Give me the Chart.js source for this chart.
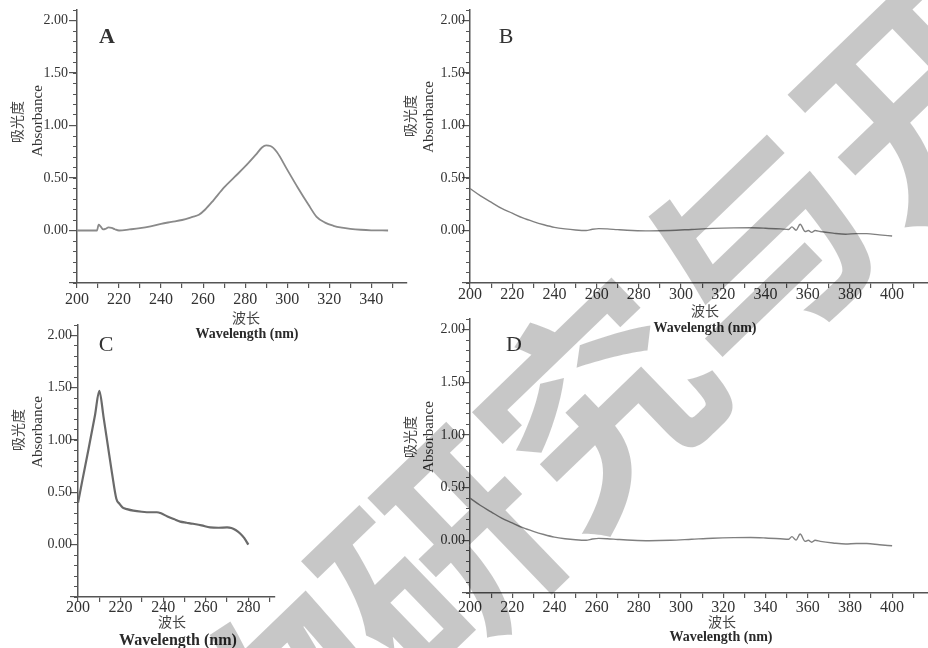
<!DOCTYPE html>
<html>
<head>
<meta charset="utf-8">
<script src="https://cdn.jsdelivr.net/npm/chart.js@4.4.1/dist/chart.umd.min.js"></script>
<style>
html,body{margin:0;padding:0;background:#fff;}
#wrap{position:relative;width:928px;height:648px;overflow:hidden;background:#fff;}
canvas{position:absolute;left:0;top:0;}
.t{position:absolute;transform:translate(-50%,-50%);white-space:nowrap;font-family:"Liberation Serif","Times New Roman",serif;color:#2a2a2a;line-height:1;}
.v{transform:translate(-50%,-50%) rotate(-90deg);}
.cjk{font-family:"Noto Sans CJK SC",sans-serif;font-size:14px;color:#444;}
.ab{font-size:15px;color:#333;}
.wl{font-size:14px;font-weight:bold;color:#2a2a2a;}
.pl{font-size:22px;color:#333;}
#wm{position:absolute;left:590px;top:395px;transform:translate(-50%,-50%) rotate(-44deg);font-family:"Noto Sans CJK SC",sans-serif;font-weight:700;font-size:222px;line-height:1;color:rgba(0,0,0,0.22);white-space:nowrap;pointer-events:none;}
</style>
</head>
<body>
<div id="wrap">
<canvas id="cA" width="928" height="648"></canvas>
<canvas id="cB" width="928" height="648"></canvas>
<canvas id="cC" width="928" height="648"></canvas>
<canvas id="cD" width="928" height="648"></canvas>

<div class="t pl" style="left:107px;top:36px;font-weight:bold;">A</div>
<div class="t v cjk" style="left:16px;top:122px;">吸光度</div>
<div class="t v ab" style="left:37px;top:121px;">Absorbance</div>
<div class="t cjk" style="left:246px;top:317px;">波长</div>
<div class="t wl" style="left:247px;top:334px;">Wavelength (nm)</div>

<div class="t pl" style="left:506px;top:36px;">B</div>
<div class="t v cjk" style="left:409px;top:116px;">吸光度</div>
<div class="t v ab" style="left:428px;top:117px;">Absorbance</div>
<div class="t cjk" style="left:705px;top:310px;">波长</div>
<div class="t wl" style="left:705px;top:328px;">Wavelength (nm)</div>

<div class="t pl" style="left:106px;top:344px;">C</div>
<div class="t v cjk" style="left:17px;top:430px;">吸光度</div>
<div class="t v ab" style="left:37px;top:432px;">Absorbance</div>
<div class="t cjk" style="left:172px;top:621px;">波长</div>
<div class="t wl" style="left:178px;top:640px;font-size:16px;">Wavelength (nm)</div>

<div class="t pl" style="left:514px;top:344px;">D</div>
<div class="t v cjk" style="left:409px;top:437px;">吸光度</div>
<div class="t v ab" style="left:428px;top:437px;">Absorbance</div>
<div class="t cjk" style="left:722px;top:621px;">波长</div>
<div class="t wl" style="left:721px;top:637px;">Wavelength (nm)</div>

<div id="wm">物研究与开</div>
</div>
<script>
// ---- Data (wavelength nm, absorbance) ----
const wavelengthA = [200, 205, 209.5, 210.3, 211.2, 212.5, 213.5, 215, 216.5, 218, 220, 225, 230, 235, 240, 245, 250, 255, 258, 261, 265, 270, 275, 280, 285, 288, 290, 292, 295, 300, 305, 310, 314, 318, 322, 326, 330, 335, 340, 348];
const absorbanceA = [0, 0, 0, 0.055, 0.04, 0.01, 0.015, 0.03, 0.025, 0.012, 0, 0.01, 0.022, 0.04, 0.064, 0.082, 0.1, 0.13, 0.15, 0.2, 0.29, 0.41, 0.51, 0.61, 0.72, 0.79, 0.81, 0.805, 0.75, 0.58, 0.41, 0.25, 0.13, 0.075, 0.045, 0.027, 0.016, 0.007, 0.002, 0];

const wavelengthB = [200, 205, 210, 215, 220, 225, 230, 235, 240, 245, 250, 255, 258, 261, 265, 270, 277, 285, 295, 305, 315, 325, 333, 340, 347, 351, 352.5, 354.5, 356.4, 358.8, 360.3, 361.9, 363.5, 366, 372, 378, 383, 388, 394, 400];
const absorbanceB = [0.40, 0.33, 0.27, 0.21, 0.165, 0.12, 0.085, 0.055, 0.03, 0.015, 0.005, 0, 0.012, 0.018, 0.015, 0.008, 0, -0.004, 0, 0.01, 0.02, 0.025, 0.026, 0.022, 0.015, 0.01, 0.035, 0.002, 0.06, -0.01, 0, -0.018, 0, -0.01, -0.025, -0.035, -0.03, -0.03, -0.042, -0.052];

const wavelengthC = [200, 202, 205, 208, 210, 212, 214, 216, 218, 219.5, 221, 223, 226, 230, 234, 237, 239, 242, 245, 248, 251, 254, 258, 262, 266, 270, 272, 274, 276, 278, 280];
const absorbanceC = [0.40, 0.61, 0.92, 1.24, 1.47, 1.22, 0.95, 0.68, 0.44, 0.39, 0.355, 0.34, 0.325, 0.315, 0.31, 0.31, 0.30, 0.27, 0.245, 0.22, 0.21, 0.20, 0.185, 0.165, 0.162, 0.165, 0.16, 0.14, 0.11, 0.065, 0];

const wavelengthD = [200, 205, 210, 215, 220, 225, 230, 235, 240, 245, 250, 255, 258, 261, 265, 270, 277, 285, 295, 305, 315, 325, 333, 340, 347, 351, 352.5, 354.5, 356.4, 358.8, 360.3, 361.9, 363.5, 366, 372, 378, 383, 388, 394, 400];
const absorbanceD = [0.40, 0.33, 0.27, 0.21, 0.165, 0.12, 0.085, 0.055, 0.03, 0.015, 0.005, 0, 0.012, 0.018, 0.015, 0.008, 0, -0.004, 0, 0.01, 0.02, 0.025, 0.026, 0.022, 0.015, 0.01, 0.035, 0.002, 0.06, -0.01, 0, -0.018, 0, -0.01, -0.025, -0.035, -0.03, -0.03, -0.042, -0.052];

const yMajorLabels = [0, 0.5, 1, 1.5, 2];   // labelled absorbance ticks
const xLabelEvery = 20;                      // nm between wavelength labels

const AXIS = '#555';
const TXT = '#333';
const SERIF = '"Liberation Serif","Times New Roman",serif';
const Y_AXIS_W = 60;   // room reserved for y tick labels
const X_AXIS_H = 34;   // room reserved for x tick labels

function makePanel(id, xs, ys, p) {
  new Chart(document.getElementById(id), {
    type: 'line',
    data: {
      datasets: [{
        data: xs.map((x, i) => ({ x: x, y: ys[i] })),
        borderColor: p.color,
        borderWidth: p.lw,
        pointRadius: 0,
        fill: false,
        cubicInterpolationMode: 'monotone',
        yAxisID: 'y'
      }]
    },
    options: {
      responsive: false,
      animation: false,
      events: [],
      layout: { padding: { left: p.left - Y_AXIS_W, right: 928 - p.right, top: p.top, bottom: 648 - p.bottom - X_AXIS_H } },
      plugins: { legend: { display: false }, tooltip: { enabled: false } },
      scales: {
        x: {
          type: 'linear', min: 200, max: p.xMax, position: 'bottom',
          afterFit: s => { s.height = X_AXIS_H; },
          border: { display: true, color: AXIS, width: 1.5 },
          grid: { drawOnChartArea: false, drawTicks: true, tickLength: 5, color: AXIS, lineWidth: 1.2 },
          ticks: {
            stepSize: 10, autoSkip: false, maxRotation: 0, includeBounds: false,
            padding: p.xPad, color: TXT, font: { family: SERIF, size: 16 },
            callback: v => (Math.round(v) % xLabelEvery === 0 ? String(Math.round(v)) : '')
          }
        },
        yMinor: {
          type: 'linear', min: -0.5, max: 2.1, position: 'left', weight: 0,
          afterFit: s => { s.width = 0; },
          border: { display: false },
          grid: { drawOnChartArea: false, drawTicks: true, tickLength: 4, color: AXIS, lineWidth: 1 },
          ticks: { stepSize: 0.1, autoSkip: false, includeBounds: false, padding: 0, callback: () => '' }
        },
        y: {
          type: 'linear', min: -0.5, max: 2.1, position: 'left', weight: 1,
          afterFit: s => { s.width = Y_AXIS_W; },
          border: { display: true, color: AXIS, width: 1.5 },
          grid: { drawOnChartArea: false, drawTicks: true, tickLength: 8, color: AXIS, lineWidth: 1.2 },
          ticks: {
            stepSize: 0.5, autoSkip: false, includeBounds: false,
            padding: p.yPad, color: TXT, font: { family: SERIF, size: 14 },
            callback: v => {
              const r = Math.round(v * 100) / 100;
              return yMajorLabels.some(m => Math.abs(m - r) < 1e-6) ? r.toFixed(2) : '';
            }
          }
        }
      }
    }
  });
}

makePanel('cA', wavelengthA, absorbanceA, { left: 77, right: 407, top: 10, bottom: 283, xMax: 357, xPad: 2, yPad: 1, color: '#8a8a8a', lw: 1.8 });
makePanel('cB', wavelengthB, absorbanceB, { left: 470, right: 928, top: 10, bottom: 283, xMax: 417, xPad: -3, yPad: -3, color: '#808080', lw: 1.4 });
makePanel('cC', wavelengthC, absorbanceC, { left: 78, right: 275, top: 325, bottom: 597, xMax: 292.5, xPad: -4, yPad: -2, color: '#6a6a6a', lw: 2.2 });
makePanel('cD', wavelengthD, absorbanceD, { left: 470, right: 928, top: 319, bottom: 593, xMax: 417, xPad: 0, yPad: -3, color: '#808080', lw: 1.4 });
</script>
</body>
</html>
